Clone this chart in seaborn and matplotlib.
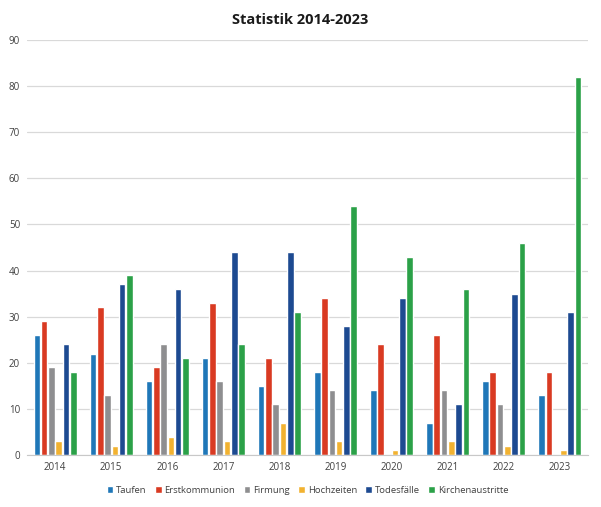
import numpy as np
import pandas as pd
import matplotlib
matplotlib.use("Agg")
import matplotlib.pyplot as plt
import seaborn as sns

# -------------------------------
# DATA
# -------------------------------
jahre = ["2014", "2015", "2016", "2017", "2018", "2019", "2020", "2021", "2022", "2023"]
kategorien = ["Taufen", "Erstkommunion", "Firmung", "Hochzeiten", "Todesfälle", "Kirchenaustritte"]

taufen = [26, 22, 16, 21, 15, 18, 14, 7, 16, 13]
erstkommunion = [29, 32, 19, 33, 21, 34, 24, 26, 18, 18]
firmung = [19, 13, 24, 16, 11, 14, 0, 14, 11, 0]
hochzeiten = [3, 2, 4, 3, 7, 3, 1, 3, 2, 1]
todesfaelle = [24, 37, 36, 44, 44, 28, 34, 11, 35, 31]
kirchenaustritte = [18, 39, 21, 24, 31, 54, 43, 36, 46, 82]

farben = ["#1F77B8", "#D93A22", "#8E8E90", "#F2B230", "#1D4A91", "#2BA148"]

werte = [taufen, erstkommunion, firmung, hochzeiten, todesfaelle, kirchenaustritte]
df = pd.DataFrame({
    "Jahr": jahre * len(kategorien),
    "Kategorie": np.repeat(kategorien, len(jahre)),
    "Wert": np.concatenate(werte),
})

# -------------------------------
# PLOT
# -------------------------------
sns.set_style("white")
plt.rcParams["font.family"] = ["Open Sans", "DejaVu Sans"]

fig = plt.figure(figsize=(6.01, 5.07), dpi=100)
ax = fig.add_axes([0.045, 0.1026, 0.933, 0.8184])

sns.barplot(data=df, x="Jahr", y="Wert", hue="Kategorie", hue_order=kategorien,
            palette=farben, width=0.78, gap=0.1, saturation=1, ax=ax)

ax.set_ylim(0, 90)
ax.set_yticks(range(0, 91, 10))
ax.set_xlim(-0.5, len(jahre) - 0.5)
ax.yaxis.grid(True, color="#D9D9D9", linewidth=0.9)
ax.set_axisbelow(True)
for s in ["top", "right", "left"]:
    ax.spines[s].set_visible(False)
ax.spines["bottom"].set_color("#C8C8C8")
ax.tick_params(axis="both", length=0, labelsize=7, colors="#404040", pad=5)
ax.set_xlabel("")
ax.set_ylabel("")

fig.suptitle("Statistik 2014-2023", y=0.975, fontsize=10.5, fontweight="bold", color="#1A1A1A")

ax.legend(loc="center", bbox_to_anchor=(0.5, -0.085), ncol=6, frameon=False,
          fontsize=6.8, handlelength=0.7, handleheight=0.7, handletextpad=0.3,
          columnspacing=0.9, labelcolor="#404040")

fig.savefig("out.png", dpi=100)
plt.close()
